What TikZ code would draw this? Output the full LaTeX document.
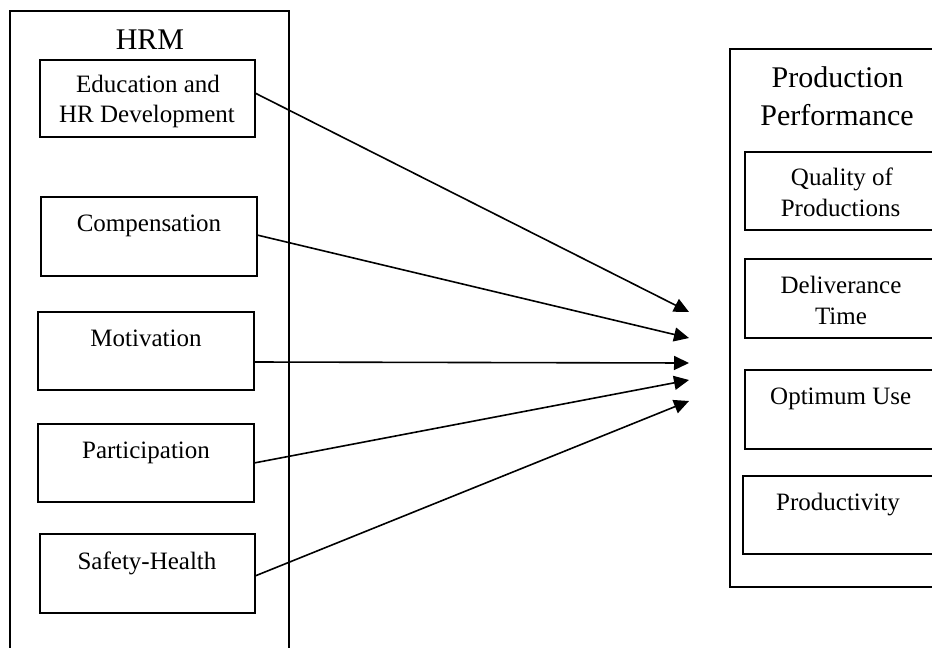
\documentclass[tikz,border=0pt]{standalone}
\usepackage{fontspec}
\setmainfont{Liberation Serif}
\usetikzlibrary{arrows.meta}
\tikzset{
  box/.style={draw, line width=1.5pt, rectangle, inner sep=0pt, outer sep=0pt},
  txt/.style={anchor=base, inner sep=0pt, font=\fontsize{25}{31}\selectfont},
  ttl/.style={anchor=base, inner sep=0pt, font=\fontsize{30}{38}\selectfont},
  conn/.style={line width=1.6pt, -{Triangle[length=15pt,width=14pt]}}
}
\begin{document}
\begin{tikzpicture}[x=1pt,y=-1pt]
\useasboundingbox (0,0) rectangle (932,648);
\clip (0,0) rectangle (932,648);
% outer boxes
\node[box, minimum width=279pt, minimum height=660pt] (hrm) at (149.5,341) {};
\node[box, minimum width=240pt, minimum height=538pt] (pp) at (850,318) {};
% titles
\node[ttl] (hrmt) at (150,49) {HRM};
\node[ttl] (ppt1) at (837.5,87) {Production};
\node[ttl] (ppt2) at (837,125) {Performance};
% left boxes
\node[box, minimum width=215pt, minimum height=77pt] (edu) at (147.5,98.5) {};
\node[box, minimum width=216pt, minimum height=79pt] (comp) at (149,236.5) {};
\node[box, minimum width=216pt, minimum height=78pt] (mot) at (146,351) {};
\node[box, minimum width=216pt, minimum height=78pt] (part) at (146,463) {};
\node[box, minimum width=215pt, minimum height=79pt] (safe) at (147.5,573.5) {};
\node[txt] (edut1) at (148,92.5) {Education and};
\node[txt] (edut2) at (147,122.5) {HR Development};
\node[txt] (compt) at (149,231) {Compensation};
\node[txt] (mott) at (146,346) {Motivation};
\node[txt] (partt) at (146,458) {Participation};
\node[txt] (safet) at (147,569) {Safety-Health};
% right boxes
\node[box, minimum width=215pt, minimum height=78pt] (qual) at (852.5,191) {};
\node[box, minimum width=215pt, minimum height=79pt] (deliv) at (852.5,298.5) {};
\node[box, minimum width=215pt, minimum height=79pt] (opt) at (852.5,409.5) {};
\node[box, minimum width=217pt, minimum height=78pt] (prod) at (851.5,515) {};
\node[txt] (qualt1) at (842,185) {Quality of};
\node[txt] (qualt2) at (840.5,216) {Productions};
\node[txt] (delivt1) at (841,293) {Deliverance};
\node[txt] (delivt2) at (841,324) {Time};
\node[txt] (optt) at (840.7,404) {Optimum Use};
\node[txt] (prodt) at (838,510) {Productivity};
% arrow targets
\coordinate (t1) at (689,312);
\coordinate (t2) at (689,338);
\coordinate (t3) at (689,363);
\coordinate (t4) at (689,380);
\coordinate (t5) at (689,401);
\draw[conn] ([yshift=5.5pt]edu.east) -- (t1);
\draw[conn] ([yshift=1.5pt]comp.east) -- (t2);
\draw[conn] ([yshift=-11pt]mot.east) -- (t3);
\draw[conn] (part.east) -- (t4);
\draw[conn] ([yshift=-2.5pt]safe.east) -- (t5);
\end{tikzpicture}
\end{document}
